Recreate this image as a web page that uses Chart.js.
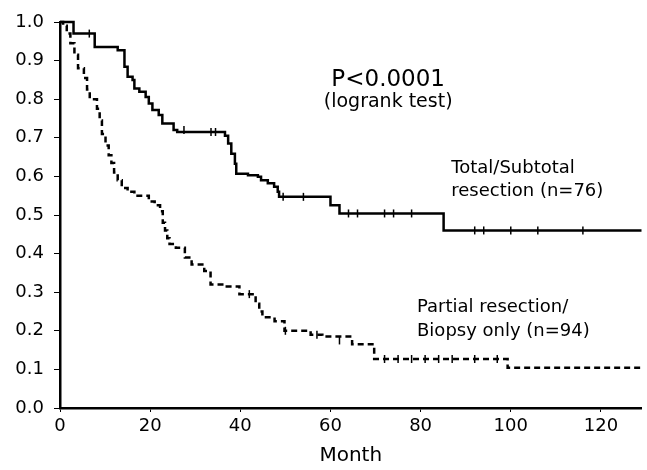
<!DOCTYPE html>
<html>
<head>
<meta charset="utf-8">
<script src="https://cdn.jsdelivr.net/npm/chart.js@4.4.1/dist/chart.umd.min.js"></script>
<style>
  html, body { margin: 0; padding: 0; background: #fff; }
  #wrap { width: 647px; height: 470px; position: relative; }
</style>
</head>
<body>
<div id="wrap"><canvas id="kmChart"></canvas></div>
<script>
// Kaplan-Meier steps: month of drop, survival after drop
var totalMonths = [0, 3, 7.7, 12.8, 14.3, 15, 16.1, 16.5, 17.6, 19, 19.7, 20.5, 21.9, 22.7, 25.2, 26, 36.6, 37.3, 38, 38.8, 39.1, 41.7, 43.9, 44.6, 46.1, 47.5, 48.3, 48.6, 60, 62, 85.1, 129]
var totalSurv   = [1.0, 0.97, 0.935, 0.927, 0.884, 0.858, 0.85, 0.828, 0.819, 0.806, 0.789, 0.772, 0.759, 0.737, 0.72, 0.715, 0.705, 0.685, 0.659, 0.633, 0.607, 0.603, 0.599, 0.59, 0.582, 0.573, 0.56, 0.547, 0.525, 0.504, 0.46, 0.46]

var partialMonths = [0, 0.7, 1.5, 2.3, 3.2, 4.0, 5.3, 6.0, 6.6, 8.2, 8.8, 9.3, 10.1, 10.8, 11.4, 12, 12.8, 13.7, 15, 16.5, 19.7, 21, 22.2, 22.8, 23.3, 23.8, 24.3, 25.7, 27.7, 29.2, 32, 33.4, 37, 39.8, 43.4, 44.2, 44.9, 47.6, 49.8, 55.6, 58.2, 64.8, 69.7, 99.3, 129]
var partialSurv   = [1.0, 0.99, 0.97, 0.945, 0.915, 0.88, 0.855, 0.825, 0.80, 0.775, 0.745, 0.71, 0.68, 0.655, 0.635, 0.61, 0.59, 0.57, 0.56, 0.55, 0.535, 0.525, 0.51, 0.48, 0.46, 0.44, 0.425, 0.415, 0.39, 0.372, 0.355, 0.32, 0.315, 0.295, 0.27, 0.25, 0.235, 0.225, 0.2, 0.19, 0.185, 0.165, 0.127, 0.104, 0.104]

// censored observations (tick marks)
var totalCensMonths = [6.5, 27.5, 33.5, 34.5, 49.5, 54, 64, 66, 72, 74, 78, 92, 94, 100, 106, 116]
var totalCensSurv   = [0.97, 0.72, 0.715, 0.715, 0.547, 0.547, 0.504, 0.504, 0.504, 0.504, 0.504, 0.46, 0.46, 0.46, 0.46, 0.46]
var partialCensMonths = [42, 50, 57, 62, 72, 75, 78, 81, 84, 87, 92, 97]
var partialCensSurv   = [0.295, 0.2, 0.19, 0.175, 0.127, 0.127, 0.127, 0.127, 0.127, 0.127, 0.127, 0.127]

var xTicks = [0, 20, 40, 60, 80, 100, 120]
var yTicks = [0, 0.1, 0.2, 0.3, 0.4, 0.5, 0.6, 0.7, 0.8, 0.9, 1.0]

// annotations: text lines with their anchor in data units
var noteText   = ['P<0.0001', '(logrank test)', 'Total/Subtotal', 'resection (n=76)', 'Partial resection/', 'Biopsy only (n=94)']
var noteMonths = [72.8, 72.8, 86.8, 86.8, 79.2, 79.2]
var noteSurv   = [0.85, 0.793, 0.62, 0.562, 0.26, 0.198]

function pts(xs, ys) {
    var out = []
    for (var i = 0; i < xs.length; i++) out.push({x: xs[i], y: ys[i]})
    return out
}

var FONT = '"DejaVu Sans", sans-serif'

var notesPlugin = {
    id: 'notes',
    afterDatasetsDraw: function (chart) {
        var ctx = chart.ctx
        var xs = chart.scales.x, ys = chart.scales.y
        var sizes = [23, 19, 18, 18, 18, 18]
        var aligns = ['center', 'center', 'left', 'left', 'left', 'left']
        ctx.save()
        ctx.fillStyle = '#000'
        ctx.textBaseline = 'middle'
        for (var i = 0; i < noteText.length; i++) {
            ctx.font = sizes[i] + 'px ' + FONT
            ctx.textAlign = aligns[i]
            ctx.fillText(noteText[i], xs.getPixelForValue(noteMonths[i]), ys.getPixelForValue(noteSurv[i]))
        }
        ctx.restore()
    }
}

var ctx = document.getElementById('kmChart').getContext('2d')
new Chart(ctx, {
    type: 'scatter',
    data: {
        datasets: [
            {
                label: 'Total/Subtotal resection (n=76)',
                data: pts(totalMonths, totalSurv),
                showLine: true,
                stepped: 'before',
                borderColor: '#000',
                borderWidth: 2.5,
                pointRadius: 0,
                clip: false
            },
            {
                label: 'Partial resection/Biopsy only (n=94)',
                data: pts(partialMonths, partialSurv),
                showLine: true,
                stepped: 'before',
                borderColor: '#000',
                borderWidth: 2.5,
                borderDash: [6, 4],
                pointRadius: 0,
                clip: false
            },
            {
                label: 'censored total',
                data: pts(totalCensMonths, totalCensSurv),
                pointStyle: 'line',
                rotation: 90,
                pointRadius: 4,
                borderColor: '#000',
                backgroundColor: '#000',
                borderWidth: 1.5,
                clip: false
            },
            {
                label: 'censored partial',
                data: pts(partialCensMonths, partialCensSurv),
                pointStyle: 'line',
                rotation: 90,
                pointRadius: 4,
                borderColor: '#000',
                backgroundColor: '#000',
                borderWidth: 1.5,
                clip: false
            }
        ]
    },
    options: {
        responsive: true,
        maintainAspectRatio: false,
        animation: false,
        layout: { padding: { top: 22, right: 0, bottom: 0, left: 0 } },
        plugins: {
            legend: { display: false },
            tooltip: { enabled: false }
        },
        scales: {
            x: {
                type: 'linear',
                min: 0,
                max: 129,
                afterFit: function (s) { s.height = 62 },
                afterBuildTicks: function (s) { s.ticks = xTicks.map(function (v) { return {value: v} }) },
                ticks: { color: '#000', font: { family: FONT, size: 18 }, padding: 4 },
                grid: { drawOnChartArea: false, drawTicks: true, tickLength: 4, color: '#000' },
                border: { color: '#000', width: 2.5 },
                title: { display: true, text: 'Month', color: '#000', font: { family: FONT, size: 20 }, padding: { top: 0, bottom: 2 } }
            },
            y: {
                min: 0,
                max: 1,
                afterFit: function (s) { s.width = 60 },
                afterBuildTicks: function (s) { s.ticks = yTicks.map(function (v) { return {value: v} }) },
                ticks: {
                    color: '#000',
                    font: { family: FONT, size: 18 },
                    padding: 10,
                    callback: function (v) { return v.toFixed(1) }
                },
                grid: { drawOnChartArea: false, drawTicks: true, tickLength: 6, color: '#000' },
                border: { color: '#000', width: 2.5 }
            }
        }
    },
    plugins: [notesPlugin]
})
</script>
</body>
</html>
